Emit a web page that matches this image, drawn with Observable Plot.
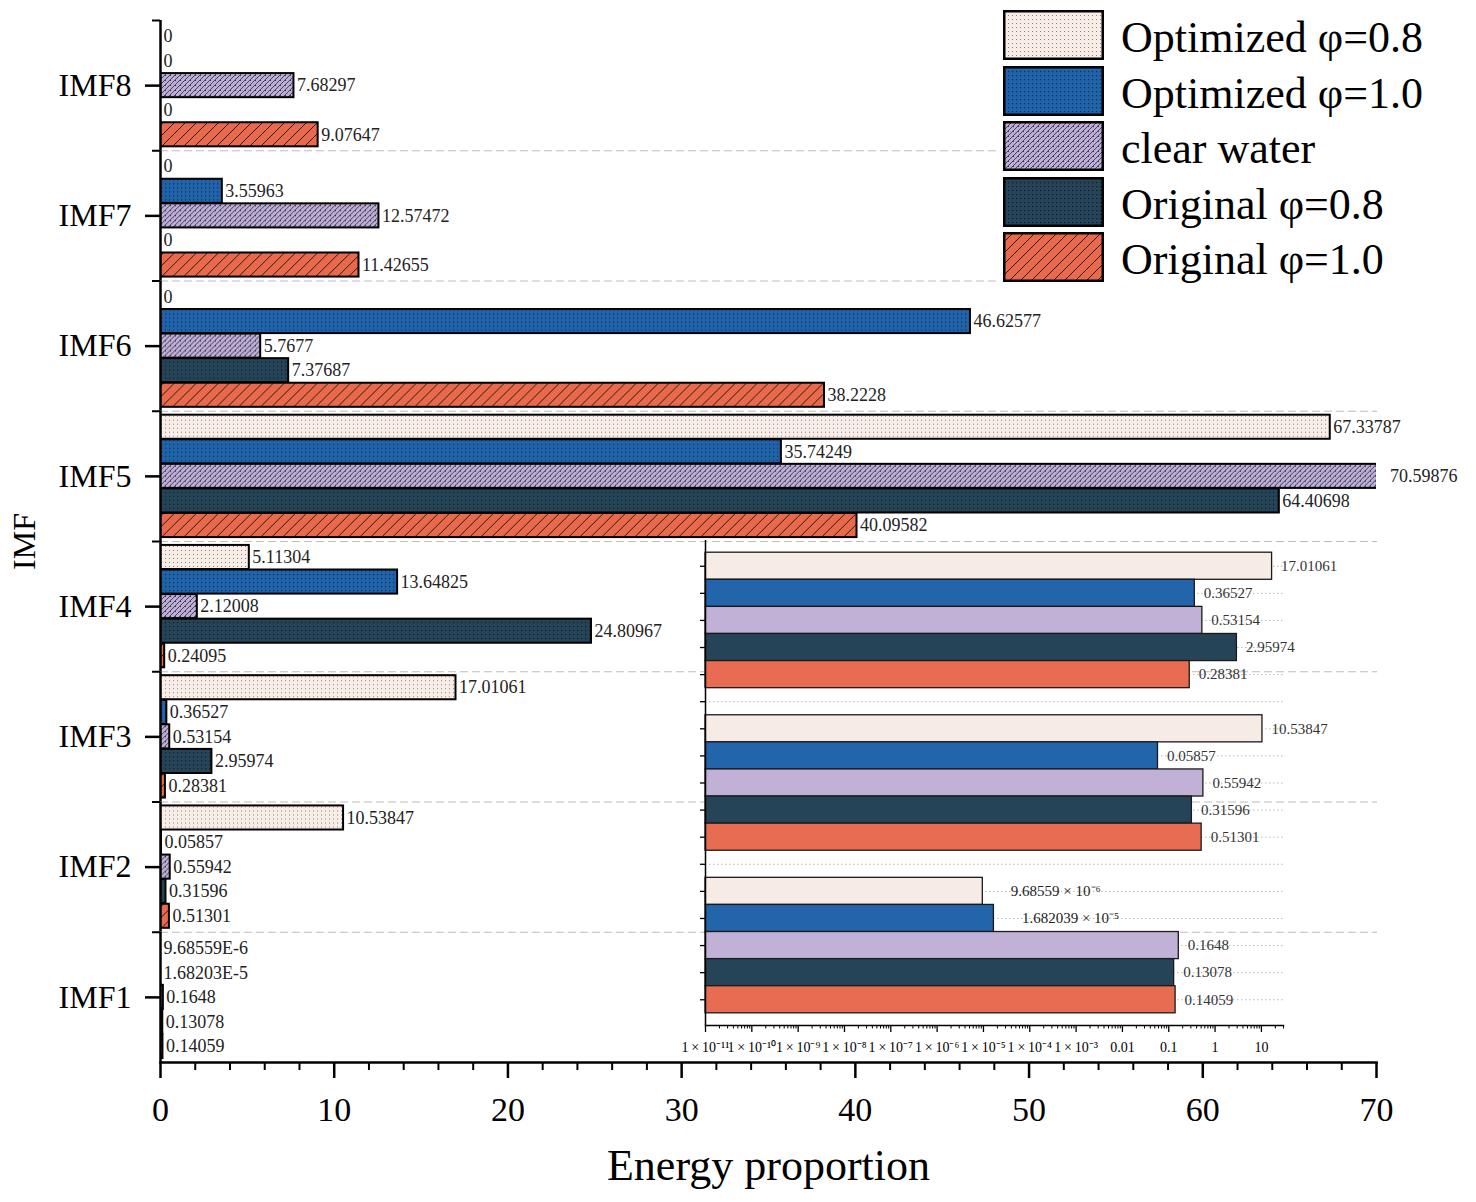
<!DOCTYPE html>
<html>
<head>
<meta charset="utf-8">
<script src="https://cdn.jsdelivr.net/npm/d3@7"></script>
<script src="https://cdn.jsdelivr.net/npm/@observablehq/plot@0.6"></script>
<style>
  html, body { margin: 0; padding: 0; background: #fff; }
  #wrap { position: relative; width: 1476px; height: 1202px; overflow: hidden; font-family: "Liberation Serif", "Times New Roman", serif; }
  #main { position: absolute; left: 0; top: 0; }
  #inset { position: absolute; left: 600px; top: 530px; }
  #legend { position: absolute; left: 998px; top: 6px; width: 478px; height: 284px; background: #fff; padding: 4px 0 0 5px; box-sizing: border-box; }
  .lrow { display: flex; align-items: center; height: 50px; margin-bottom: 5.6px; }
  .lrow svg { flex: none; }
  .lrow span { font-size: 44px; line-height: 1; margin-left: 17px; color: #000; white-space: nowrap; position: relative; top: 3px; }
</style>
</head>
<body>
<svg width="0" height="0" style="position:absolute">
  <defs>
    <pattern id="p0" patternUnits="userSpaceOnUse" width="4" height="4">
      <rect width="4" height="4" fill="#f8ece6"/>
      <rect x="1" y="1" width="1" height="1" fill="#8c8484"/>
    </pattern>
    <pattern id="p1" patternUnits="userSpaceOnUse" width="4" height="4">
      <rect width="4" height="4" fill="#2163a8"/>
      <rect x="1" y="1" width="1.2" height="1.2" fill="#0a2f5c"/>
    </pattern>
    <pattern id="p2" patternUnits="userSpaceOnUse" width="5" height="5">
      <rect width="5" height="5" fill="#bcadd3"/>
      <path d="M0,5 L5,0 M-1,1 L1,-1 M4,6 L6,4" stroke="#3e3454" stroke-width="0.9"/>
      <rect x="0" y="0" width="1" height="1" fill="#3e3454"/>
    </pattern>
    <pattern id="p3" patternUnits="userSpaceOnUse" width="4" height="4">
      <rect width="4" height="4" fill="#254457"/>
      <rect x="1" y="1" width="1.2" height="1.2" fill="#0b1c26"/>
    </pattern>
    <pattern id="p4" patternUnits="userSpaceOnUse" width="11" height="11">
      <rect width="11" height="11" fill="#e8694c"/>
      <path d="M0,11 L11,0 M-2,2 L2,-2 M9,13 L13,9" stroke="#2a1a14" stroke-width="1"/>
    </pattern>
  </defs>
</svg>
<div id="wrap">
  <div id="main"></div>
  <div id="inset"></div>
  <div id="legend"></div>
</div>
<script>
// ---------- data ----------
const imfs = ["IMF8", "IMF7", "IMF6", "IMF5", "IMF4", "IMF3", "IMF2", "IMF1"];
const series = ["Optimized φ=0.8", "Optimized φ=1.0", "clear water", "Original φ=0.8", "Original φ=1.0"];

// values per series, in the order of imfs (IMF8 ... IMF1)
const optimized08 = [0, 0, 0, 67.33787, 5.11304, 17.01061, 10.53847, 9.68559e-6];
const optimized10 = [0, 3.55963, 46.62577, 35.74249, 13.64825, 0.36527, 0.05857, 1.682039e-5];
const clearWater  = [7.68297, 12.57472, 5.7677, 70.59876, 2.12008, 0.53154, 0.55942, 0.1648];
const original08  = [0, 0, 7.37687, 64.40698, 24.80967, 2.95974, 0.31596, 0.13078];
const original10  = [9.07647, 11.42655, 38.2228, 40.09582, 0.24095, 0.28381, 0.51301, 0.14059];

const imf1MainLabels  = ["9.68559E-6", "1.68203E-5", "0.1648", "0.13078", "0.14059"];
const imf1InsetLabels = ["9.68559 × 10⁻⁶", "1.682039 × 10⁻⁵", "0.1648", "0.13078", "0.14059"];

const xTicks = [0, 10, 20, 30, 40, 50, 60, 70];
const xMinorTicks = [2, 4, 6, 8, 12, 14, 16, 18, 22, 24, 26, 28, 32, 34, 36, 38, 42, 44, 46, 48, 52, 54, 56, 58, 62, 64, 66, 68];

const insetImfs = ["IMF3", "IMF2", "IMF1"];
const insetTicks = [1e-11, 1e-10, 1e-9, 1e-8, 1e-7, 1e-6, 1e-5, 1e-4, 1e-3, 0.01, 0.1, 1, 10];

const patternFills = ["url(#p0)", "url(#p1)", "url(#p2)", "url(#p3)", "url(#p4)"];
const insetColors = ["#f7ebe5", "#2265ab", "#c1b1d6", "#264457", "#e86c51"];

// ---------- derived tables ----------
const valuesBySeries = [optimized08, optimized10, clearWater, original08, original10];
const rows = imfs.flatMap((imf, i) => series.map((s, j) => {
  const v = valuesBySeries[j][i];
  return {imf, series: s, value: v, label: imf === "IMF1" ? imf1MainLabels[j] : String(v)};
}));

const insetKeys = [];
insetImfs.forEach((imf, g) => {
  series.forEach(s => insetKeys.push(imf + "|" + s));
  if (g < insetImfs.length - 1) insetKeys.push("gap|" + imf);
});
const insetRows = insetImfs.flatMap(imf => {
  const i = imfs.indexOf(imf);
  return series.map((s, j) => {
    const v = valuesBySeries[j][i];
    return {key: imf + "|" + s, series: s, value: v, label: imf === "IMF1" ? imf1InsetLabels[j] : String(v)};
  });
});
const insetMinor = [];
for (let k = -11; k <= 1; k++) for (let m = 2; m <= 9; m++) { const t = m * Math.pow(10, k); if (t <= 30) insetMinor.push(t); }

const sup = {"-": "⁻", "0": "⁰", "1": "¹", "2": "²", "3": "³", "4": "⁴", "5": "⁵", "6": "⁶", "7": "⁷", "8": "⁸", "9": "⁹"};
const fmtLog = v => v >= 0.01 ? String(v) : "1\u2009×\u200910" + String(Math.round(Math.log10(v))).split("").map(c => sup[c]).join("");

const FONT = "'Liberation Serif', 'Times New Roman', serif";

// ---------- main chart ----------
const W = 1476, H = 1202, mT = 20, mB = 140, mL = 160, mR = 100;
const step = (H - mT - mB) / imfs.length;

const main = Plot.plot({
  width: W, height: H,
  marginTop: mT, marginBottom: mB, marginLeft: mL, marginRight: mR,
  style: {fontFamily: FONT, fontSize: "18px", background: "transparent", color: "#000", overflow: "visible"},
  x: {domain: [0, 70]},
  y: {domain: series, paddingInner: 0.02, paddingOuter: 0.16, axis: null, round: false},
  fy: {domain: imfs, padding: 0, round: false},
  color: {domain: series, range: patternFills},
  marks: [
    Plot.frame({anchor: "bottom", stroke: "#bdbdbd", strokeDasharray: "7,5", strokeWidth: 1.2}),
    Plot.barX(rows, {fy: "imf", y: "series", x: "value", fill: "series", stroke: "#000", strokeWidth: 2, clip: true}),
    Plot.text(rows, {fy: "imf", y: "series", x: "value", text: "label", textAnchor: "start", dx: 3, fontSize: 18, fill: "#222"}),
    Plot.ruleX([0], {stroke: "#000", strokeWidth: 2.5}),
    Plot.frame({anchor: "bottom", facetAnchor: "bottom", stroke: "#000", strokeWidth: 2.5}),
    Plot.axisFy({anchor: "left", tickSize: 15, tickPadding: 14, fontSize: 32, strokeWidth: 2.5, label: "IMF", labelAnchor: "center", labelOffset: 148}),
    Plot.axisFy({anchor: "left", tickSize: 8, strokeWidth: 2, fill: "none", label: null, dy: -step / 2}),
    Plot.axisX({ticks: xTicks, tickSize: 16, tickPadding: 18, fontSize: 34, strokeWidth: 2.5, label: null}),
    Plot.axisX({ticks: xMinorTicks, tickSize: 8, strokeWidth: 2, fill: "none", label: null}),
    Plot.axisX({ticks: [], tickSize: 0, fontSize: 44, label: "Energy proportion", labelAnchor: "center", labelOffset: 117, labelArrow: "none"})
  ]
});
document.getElementById("main").append(main);

// ---------- inset (log scale) ----------
const inset = Plot.plot({
  width: 876, height: 540,
  marginTop: 10, marginBottom: 45, marginLeft: 105, marginRight: 193,
  style: {fontFamily: FONT, fontSize: "14px", background: "transparent", color: "#000", overflow: "visible"},
  x: {type: "log", domain: [1e-11, 30]},
  y: {domain: insetKeys, paddingInner: 0, paddingOuter: 0.45, axis: null, round: false},
  color: {domain: series, range: insetColors},
  marks: [
    Plot.gridY({stroke: "#9a9a9a", strokeOpacity: 0.7, strokeDasharray: "1.5,2.5"}),
    Plot.barX(insetRows, {y: "key", x1: 1e-11, x2: "value", fill: "series", stroke: "#1a1a1a", strokeWidth: 1.3}),
    Plot.text(insetRows.filter(d => d.value >= 1e-3), {y: "key", x: "value", text: "label", textAnchor: "start", dx: 9, fontSize: 15, fill: "#333"}),
    Plot.text(insetRows.filter(d => d.value < 1e-3), {y: "key", x: "value", text: "label", textAnchor: "start", dx: 28, fontSize: 15, fill: "#222"}),
    Plot.ruleX([1e-11], {stroke: "#000", strokeWidth: 1.5}),
    Plot.frame({anchor: "bottom", stroke: "#000", strokeWidth: 1.5}),
    Plot.axisY({ticks: insetKeys, tickSize: 5, strokeWidth: 1.3, fill: "none", label: null}),
    Plot.axisX({ticks: insetTicks, tickFormat: fmtLog, tickSize: 7, tickPadding: 10, fontSize: 14, strokeWidth: 1.3, label: null}),
    Plot.axisX({ticks: insetMinor, tickSize: 3.5, strokeWidth: 1, fill: "none", label: null})
  ]
});
document.getElementById("inset").append(inset);

// ---------- legend ----------
const legend = d3.select("#legend");
series.forEach((s, j) => {
  const row = legend.append("div").attr("class", "lrow");
  row.append("svg").attr("width", 101).attr("height", 50)
    .append("rect").attr("x", 1.25).attr("y", 1.25).attr("width", 98.5).attr("height", 47.5)
    .attr("fill", patternFills[j]).attr("stroke", "#000").attr("stroke-width", 2.5);
  row.append("span").text(s);
});
</script>
</body>
</html>
